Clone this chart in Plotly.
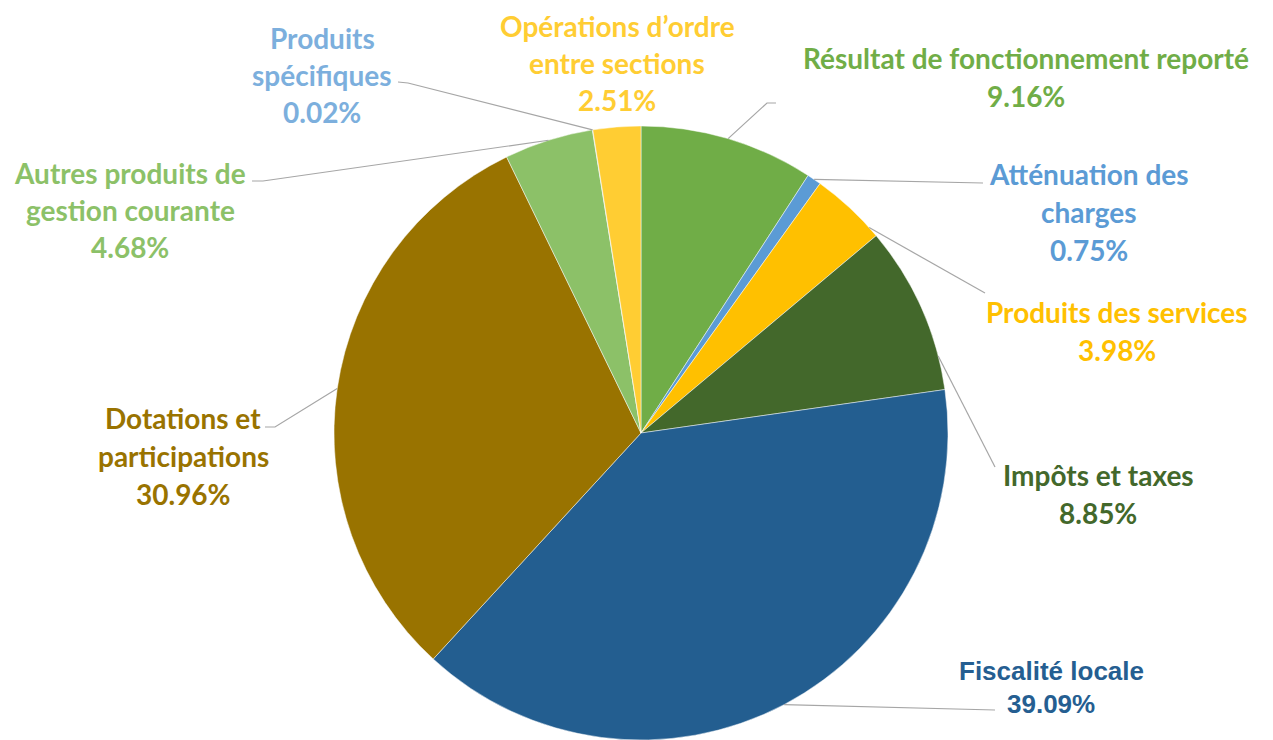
import math
import plotly.graph_objects as go

# ---- data ----
categories = [
    "Résultat de fonctionnement reporté",
    "Atténuation des charges",
    "Produits des services",
    "Impôts et taxes",
    "Fiscalité locale",
    "Dotations et participations",
    "Autres produits de gestion courante",
    "Produits spécifiques",
    "Opérations d’ordre entre sections",
]
values = [9.16, 0.75, 3.98, 8.85, 39.09, 30.96, 4.68, 0.02, 2.51]
label_lines = [
    ["Résultat de fonctionnement reporté"],
    ["Atténuation des", "charges"],
    ["Produits des services"],
    ["Impôts et taxes"],
    ["Fiscalité locale"],
    ["Dotations et", "participations"],
    ["Autres produits de", "gestion courante"],
    ["Produits", "spécifiques"],
    ["Opérations d’ordre", "entre sections"],
]
slice_colors = ["#70AD47", "#5B9BD5", "#FFC000", "#43682B", "#235E90",
                "#997300", "#8CC168", "#7CAFDD", "#FFCD33"]
text_colors = ["#70AD47", "#5B9BD5", "#FFC000", "#43682B", "#255E91",
               "#997300", "#8CC168", "#7CAFDD", "#FFCD33"]

# ---- layout parameters (window pixels) ----
WIN_W, WIN_H = 1273, 740
OFF = 8                      # default page margin of the html body
W, H = WIN_W - OFF, WIN_H - OFF
CX, CY, R = 641, 433, 307
# label block: center x, first line center y, line spacing
label_pos = [
    (1026, 58, 38), (1089, 174, 38), (1117, 312, 38), (1098, 475, 38),
    (1051, 671, 33), (183, 418, 38), (130, 173, 37), (322, 38, 37),
    (617, 26, 37),
]
# where along the slice the leader starts (fraction of the slice)
anchor_frac = [0.5, 0.5, 0.86, 0.8, 0.5, 0.5, 0.5, 0.5, 0.5]
# leader line path after edge point (None = no leader)
leader_path = [
    [(767, 103), (776, 103)],
    [(983, 183)],
    [(985, 293)],
    [(995, 467)],
    [(995, 710)],
    [(275, 427), (265, 427)],
    [(263, 181), (252, 181)],
    [(408, 83), (398, 82)],
    None,
]

def px(x):
    return (x - OFF) / W

def py(y):
    return 1 - (y - OFF) / H

fig = go.Figure(go.Pie(
    labels=categories, values=values, sort=False, direction="clockwise",
    rotation=0, textinfo="none", hoverinfo="label+percent",
    marker=dict(colors=slice_colors, line=dict(color="rgba(255,255,255,0.6)", width=0.8)),
    domain=dict(x=[px(CX - R), px(CX + R)], y=[max(0, py(CY + R)), py(CY - R)]),
    showlegend=False,
))

total = sum(values)
cum = 0.0
shapes = []
annotations = []
for i, v in enumerate(values):
    pos = (cum + v * anchor_frac[i]) / total
    cum += v
    th = 2 * math.pi * pos
    ex, ey = CX + R * math.sin(th), CY - R * math.cos(th)
    if leader_path[i]:
        pts = [(ex, ey)] + leader_path[i]
        path = "M " + " L ".join(f"{px(a):.5f},{py(b):.5f}" for a, b in pts)
        shapes.append(dict(type="path", xref="paper", yref="paper", path=path,
                           line=dict(color="#A6A6A6", width=1.2)))
    lx, ly, sp = label_pos[i]
    lines = label_lines[i] + [f"{v:.2f}%"]
    if i == 4:
        font = dict(family="Liberation Sans, Arial", size=26, color=text_colors[i], weight=700)
    else:
        font = dict(family="Lato, Open Sans", size=28, color=text_colors[i], weight=700)
    for k, t in enumerate(lines):
        annotations.append(dict(
            x=px(lx), y=py(ly + k * sp), xref="paper", yref="paper",
            text=t, showarrow=False, xanchor="center", yanchor="middle",
            font=font,
        ))

fig.update_layout(
    width=W, height=H, margin=dict(l=0, r=0, t=0, b=0),
    paper_bgcolor="white", plot_bgcolor="white",
    shapes=shapes, annotations=annotations,
)
fig.write_html("out.html")
